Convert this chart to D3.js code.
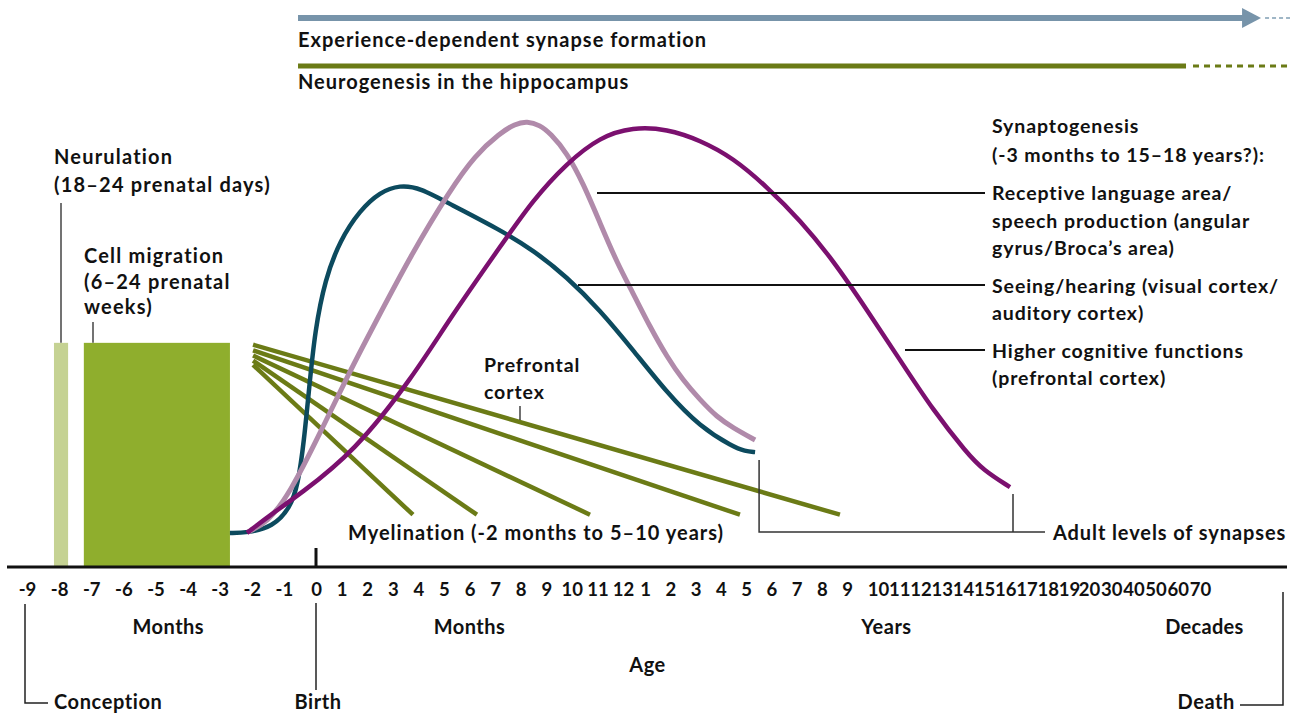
<!DOCTYPE html>
<html>
<head>
<meta charset="utf-8">
<title>Human brain development</title>
<script src="https://cdn.jsdelivr.net/npm/d3@7"></script>
<style>
  body { margin: 0; background: #fff; }
  svg text { font-family: Lato, "DejaVu Sans", sans-serif; font-weight: 700; fill: #111; }
</style>
</head>
<body>
<svg id="chart" width="1290" height="713"></svg>
<script>
  // ---- data ----
  // tick labels along the age axis
  var prenatalMonths = ["-9", "-8", "-7", "-6", "-5", "-4", "-3", "-2", "-1"];
  var birthTick = ["0"];
  var postnatalMonths = ["1", "2", "3", "4", "5", "6", "7", "8", "9", "10", "11", "12"];
  var years = ["1", "2", "3", "4", "5", "6", "7", "8", "9", "10", "11", "12", "13", "14", "15", "16", "17", "18", "19"];
  var decades = ["20", "30", "40", "50", "60", "70"];
  var tickLabels = prenatalMonths.concat(birthTick, postnatalMonths, years, decades);

  // synaptogenesis curves: [axis position (tick index), synapse level 0-100]
  var seeingHearing = [[6.32, 7.3], [6.85, 7.3], [7.66, 8.6], [8.19, 12.6], [8.44, 17.6], [8.63, 27.2],
    [8.78, 37.9], [8.97, 50.7], [9.35, 61.5], [9.94, 70.0], [10.72, 76.4], [11.50, 80.3],
    [12.28, 81.8], [13.07, 81.2], [14.24, 77.7], [16.19, 72.2], [17.48, 67.9], [18.81, 62.1],
    [20.10, 55.0], [21.45, 46.5], [22.87, 37.3], [24.18, 30.0], [25.49, 25.7], [25.96, 24.8], [26.36, 24.6]];
  var languageArea = [[6.88, 7.5], [7.47, 9.4], [8.19, 15.8], [9.16, 28.7], [10.33, 42.0], [11.23, 51.4],
    [12.75, 67.2], [14.24, 80.7], [15.22, 88.2], [16.19, 92.9], [16.78, 94.9], [17.25, 95.5],
    [17.76, 94.6], [18.15, 92.9], [18.81, 88.7], [19.44, 82.2], [20.10, 73.7], [20.77, 65.1],
    [21.45, 58.7], [22.20, 51.4], [22.87, 45.0], [23.50, 40.0], [24.18, 35.8], [24.85, 32.1],
    [25.49, 29.8], [26.36, 27.2]];
  var prefrontal = [[6.85, 7.3], [7.57, 11.1], [8.50, 15.6], [10.49, 24.6], [12.79, 40.7], [14.24, 53.3],
    [16.19, 68.5], [17.48, 78.6], [18.81, 86.5], [20.10, 92.1], [21.45, 94.2], [22.87, 93.8],
    [24.18, 91.4], [25.49, 87.6], [26.83, 81.4], [28.14, 74.3], [29.45, 65.7], [30.65, 55.0],
    [32.04, 44.3], [33.59, 33.6], [35.19, 24.4], [35.95, 20.8], [37.22, 17.1]];

  // myelination: start position, start level, end position, end level
  var myelStart = [7.04, 7.04, 7.04, 7.04, 7.04];
  var myelStartLevel = [43.3, 44.2, 45.3, 46.4, 47.6];
  var myelEnd = [12.79, 15.29, 19.71, 25.76, 29.72];
  var myelEndLevel = [11.2, 11.2, 11.2, 11.2, 11.2];

  // prenatal stages (blocks): from / to position, level
  var stageNames = ["Neurulation", "Cell migration"];
  var stageFrom = [0.84, 1.77];
  var stageTo = [1.28, 6.32];
  var stageLevel = [48, 48];

  // lifelong processes: solid part, then dotted continuation
  var processNames = ["Experience-dependent synapse formation", "Neurogenesis in the hippocampus"];
  var processFrom = [8.44, 8.44];
  var processSolidTo = [48.75, 45.37];
  var processDotTo = [50.1, 50.1];

  // ---- layout ----
  var svg = d3.select("#chart");
  var axisY = 567;

  var x = d3.scaleLinear()
    .domain([0, 9, 21, 22, 30, 31, 40, 41, 46])
    .range([27, 316, 623, 645, 847, 878, 1069, 1089, 1200]);
  var y = d3.scaleLinear().domain([0, 100]).range([axisY, 100]);

  var line = d3.line()
    .x(function(d) { return x(d[0]); })
    .y(function(d) { return y(d[1]); })
    .curve(d3.curveBasis);

  function label(lines, tx, ty, size, step, anchor, spacing) {
    var t = svg.append("text")
      .attr("x", tx).attr("y", ty)
      .attr("font-size", size)
      .attr("letter-spacing", spacing == null ? 1 : spacing)
      .attr("text-anchor", anchor || "start");
    lines.forEach(function(s, i) {
      t.append("tspan").attr("x", tx).attr("dy", i == 0 ? 0 : step).text(s);
    });
    return t;
  }

  // top processes
  var procColors = ["#7794aa", "#6b7b16"];
  var procWidths = [6, 5];
  var procY = [18, 66];
  var procTextY = [47, 89];
  processNames.forEach(function(name, i) {
    var py = procY[i];
    var solidEnd = x(processSolidTo[i]) - (i == 0 ? 18 : 0);
    svg.append("line")
      .attr("x1", x(processFrom[i])).attr("x2", solidEnd)
      .attr("y1", py).attr("y2", py)
      .attr("stroke", procColors[i]).attr("stroke-width", procWidths[i]);
    if (i == 0) {
      var tip = x(processSolidTo[i]);
      svg.append("path")
        .attr("d", "M" + (tip - 19) + "," + (py - 10) + "L" + tip + "," + py + "L" + (tip - 19) + "," + (py + 10) + "Z")
        .attr("fill", procColors[i]);
    }
    svg.append("line")
      .attr("x1", x(processSolidTo[i]) + (i == 0 ? 4 : 7)).attr("x2", x(processDotTo[i]))
      .attr("y1", py).attr("y2", py)
      .attr("stroke", i == 0 ? "#9fb6c6" : procColors[i])
      .attr("stroke-width", i == 0 ? 2 : 3)
      .attr("stroke-dasharray", i == 0 ? "4,3" : "6,5");
    label([name], x(processFrom[i]), procTextY[i], 20, 0);
  });

  // prenatal blocks
  var stageColors = ["#c5d293", "#8fae2d"];
  svg.selectAll(".stage")
    .data(stageNames)
    .enter()
    .append("rect")
    .attr("class", "stage")
    .attr("x", function(d, i) { return x(stageFrom[i]); })
    .attr("width", function(d, i) { return x(stageTo[i]) - x(stageFrom[i]); })
    .attr("y", function(d, i) { return y(stageLevel[i]); })
    .attr("height", function(d, i) { return axisY - y(stageLevel[i]); })
    .attr("fill", function(d, i) { return stageColors[i]; });

  // block labels and their leaders
  label(["Neurulation", "(18\u201324 prenatal days)"], 54, 164, 20, 28, "start", 1.2);
  label(["Cell migration", "(6\u201324 prenatal", "weeks)"], 84, 263, 20, 25.5, "start", 1.2);
  svg.append("line").attr("x1", 61).attr("x2", 61).attr("y1", 203).attr("y2", y(stageLevel[0]))
    .attr("stroke", "#444").attr("stroke-width", 1.5);
  svg.append("line").attr("x1", 93).attr("x2", 93).attr("y1", 322).attr("y2", y(stageLevel[1]))
    .attr("stroke", "#444").attr("stroke-width", 1.5);

  // myelination fan
  svg.selectAll(".myel")
    .data(myelEnd)
    .enter()
    .append("line")
    .attr("class", "myel")
    .attr("x1", function(d, i) { return x(myelStart[i]); })
    .attr("y1", function(d, i) { return y(myelStartLevel[i]); })
    .attr("x2", function(d, i) { return x(myelEnd[i]); })
    .attr("y2", function(d, i) { return y(myelEndLevel[i]); })
    .attr("stroke", "#6b7b16")
    .attr("stroke-width", 4.5);

  // synaptogenesis curves
  var curves = [seeingHearing, languageArea, prefrontal];
  var curveColors = ["#0c4a5e", "#b08aaa", "#7b106f"];
  var curveWidths = [4.5, 5, 4.5];
  curves.forEach(function(c, i) {
    svg.append("path")
      .attr("d", line(c))
      .attr("fill", "none")
      .attr("stroke", curveColors[i])
      .attr("stroke-width", curveWidths[i]);
  });

  // leaders to the synaptogenesis legend
  var leaders = [[597, 193], [578, 285], [905, 350]];
  leaders.forEach(function(l) {
    svg.append("line").attr("x1", l[0]).attr("x2", 985).attr("y1", l[1]).attr("y2", l[1])
      .attr("stroke", "#111").attr("stroke-width", 2);
  });
  label(["Synaptogenesis", "(-3 months to 15\u201318 years?):"], 992, 133, 19.5, 29, "start", 0.9);
  label(["Receptive language area/", "speech production (angular", "gyrus/Broca\u2019s area)"], 992, 200, 19.5, 27.5, "start", 0.9);
  label(["Seeing/hearing (visual cortex/", "auditory cortex)"], 992, 293, 19.5, 27, "start", 0.9);
  label(["Higher cognitive functions", "(prefrontal cortex)"], 992, 358, 19.5, 27, "start", 0.9);

  label(["Prefrontal", "cortex"], 484, 372, 19.5, 27, "start", 0.9);
  svg.append("line").attr("x1", 520).attr("x2", 520).attr("y1", 406).attr("y2", 420)
    .attr("stroke", "#111").attr("stroke-width", 1.2);

  label(["Myelination (-2 months to 5\u201310 years)"], 348, 540, 20, 0);

  // adult levels bracket
  var endTeal = seeingHearing[seeingHearing.length - 1];
  var endPurple = prefrontal[prefrontal.length - 1];
  svg.append("path")
    .attr("d", "M" + (x(endTeal[0]) + 4) + ",460V532H1045M" + (x(endPurple[0]) + 3) + ",494V532")
    .attr("fill", "none").attr("stroke", "#333").attr("stroke-width", 1.5);
  label(["Adult levels of synapses"], 1053, 540, 20, 0, "start", 0.9);

  // age axis
  svg.append("line").attr("x1", 7).attr("x2", 1287).attr("y1", axisY).attr("y2", axisY)
    .attr("stroke", "#111").attr("stroke-width", 3);
  svg.append("line").attr("x1", x(9)).attr("x2", x(9)).attr("y1", 548).attr("y2", axisY)
    .attr("stroke", "#111").attr("stroke-width", 3);

  var axis = d3.axisBottom(x)
    .tickValues(d3.range(tickLabels.length))
    .tickFormat(function(d) { return tickLabels[d]; })
    .tickSize(0)
    .tickPadding(0);
  var ax = svg.append("g").attr("transform", "translate(0," + (axisY + 16) + ")").call(axis);
  ax.select(".domain").remove();
  ax.selectAll("text")
    .attr("font-family", "Lato, 'DejaVu Sans', sans-serif")
    .attr("font-weight", 700)
    .attr("font-size", 18.5)
    .attr("fill", "#111");

  label(["Months"], x(4.4), 634, 20, 0, "middle", 0.5);
  label(["Months"], x(15), 634, 20, 0, "middle", 0.5);
  label(["Years"], x(31.4), 634, 20, 0, "middle", 0.5);
  label(["Decades"], x(46.2), 634, 20, 0, "middle", 0.3);
  label(["Age"], x(22.1), 672, 20, 0, "middle", 0.5);

  // conception / birth / death markers
  svg.append("path").attr("d", "M25,604V703H48").attr("fill", "none").attr("stroke", "#222").attr("stroke-width", 1.5);
  svg.append("line").attr("x1", x(9)).attr("x2", x(9)).attr("y1", 603).attr("y2", 690)
    .attr("stroke", "#222").attr("stroke-width", 1.5);
  svg.append("path").attr("d", "M1240,705H1283V592").attr("fill", "none").attr("stroke", "#222").attr("stroke-width", 1.5);
  label(["Conception"], 54, 709, 20, 0, "start", 0.6);
  label(["Birth"], x(9) + 2, 709, 20, 0, "middle", 0.6);
  label(["Death"], 1235, 709, 20, 0, "end", 0.6);
</script>
</body>
</html>
